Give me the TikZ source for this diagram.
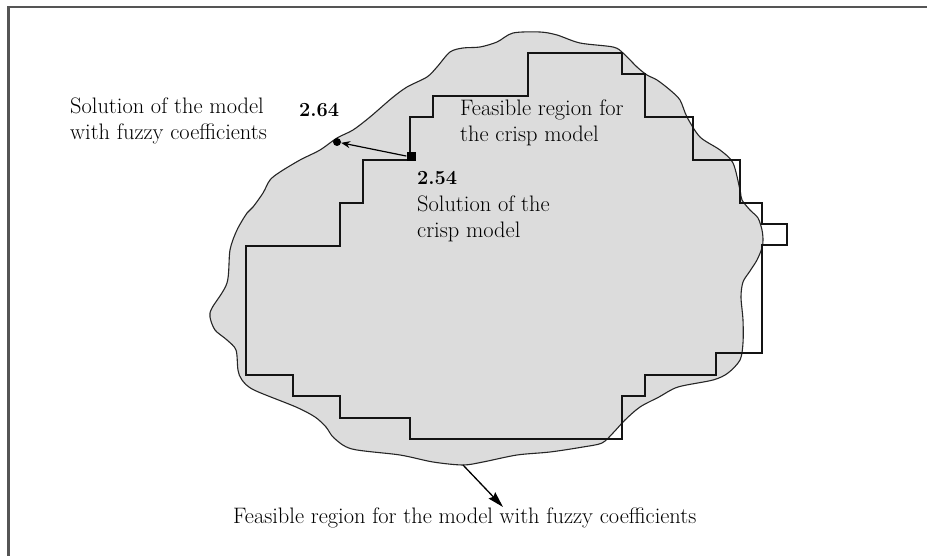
\documentclass[tikz,border=0pt]{standalone}
\usetikzlibrary{arrows.meta}
\definecolor{blobfill}{RGB}{220,220,220}
\definecolor{framegray}{RGB}{85,85,85}
\begin{document}
\begin{tikzpicture}[x=1pt,y=-1pt,
  lbl/.style={inner sep=0pt, anchor=base west, align=left, font=\fontsize{22.4}{26}\selectfont},
  num/.style={inner sep=0pt, anchor=base west, font=\fontsize{20}{24}\selectfont\bfseries},
  stair/.style={line width=2.8pt, draw=black!92, line join=miter},
  blob/.style={fill=blobfill, draw=black!85, line width=1.1pt},
  frameline/.style={draw=framegray, line width=2.2pt},
  pointer/.style={line width=1.2pt, -{Stealth[length=9pt,width=7pt]}},
  bigpointer/.style={line width=1.3pt, -{Stealth[length=16pt,width=9pt,inset=2pt]}}
]
\useasboundingbox (0,0) rectangle (927,556);
\clip (0,0) rectangle (927,556);
\fill[white] (0,0) rectangle (927,556);
% frame
\draw[frameline] (8.5,570) -- (8.5,7) -- (940,7);
% feasible region (fuzzy)
\draw[blob] plot[smooth cycle, tension=0.5] coordinates {
 (513,33) (540,32) (557,35) (580,43) (613,47) (623,53) (637,67) (647,75)
 (657,80) (670,90) (680,100) (687,117) (700,137) (720,150) (733,163)
 (740,190) (742,200) (750,210) (758,218) (762,230) (763,240) (762,248)
 (757,260) (750,271) (743,282) (741,297) (743,320) (743,343) (740,360)
 (728,373) (713,380) (678,387) (659,397) (640,407) (625,420) (613,433)
 (602,443) (583,447) (550,452) (517,455) (483,462) (463,465) (433,462)
 (400,455) (352,449) (334,438) (326,427) (315,417) (296,407) (254,390)
 (242,380) (238,370) (236,350) (227,340) (215,330) (210,317) (212,308)
 (227,283) (230,250) (237,230) (247,213) (253,207) (263,193) (270,180)
 (280,172) (300,160) (320,150) (337,138) (353,130) (370,117) (392,98)
 (407,87) (427,77) (437,67) (450,52) (463,48) (480,47) (497,42)};
% feasible region (crisp)
\draw[stair] (528,53) -- (622,53) -- (622,74) -- (645,74) -- (645,117)
 -- (693,117) -- (693,160) -- (740,160) -- (740,203) -- (762,203)
 -- (762,224) -- (787,224) -- (787,245) -- (762,245) -- (762,353)
 -- (716,353) -- (716,375) -- (645,375) -- (645,396) -- (622,396)
 -- (622,439) -- (410,439) -- (410,418) -- (340,418) -- (340,396)
 -- (293,396) -- (293,375) -- (246,375) -- (246,246) -- (340,246)
 -- (340,203) -- (363,203) -- (363,160) -- (410,160) -- (410,117)
 -- (433,117) -- (433,96) -- (528,96) -- cycle;
% solution points
\node[circle, fill=black, inner sep=0pt, minimum size=8pt] (fuzzysol) at (337,142) {};
\node[rectangle, fill=black, inner sep=0pt, minimum size=9pt] (crispsol) at (411,157) {};
\draw[pointer] (crispsol) -- (fuzzysol);
% labels (base anchor = baseline of the last line)
\node[lbl] (fuzzylbl) at (70,140) {Solution of the model\\with fuzzy coefficients};
\node[num] (v264) at (299,116.5) {2.64};
\node[num] (v254) at (417,185) {2.54};
\node[lbl] (crisplbl) at (417,238) {Solution of the\\crisp model};
\node[lbl] (crispreg) at (460,142) {Feasible region for\\the crisp model};
\node[lbl] (fuzzyreg) at (233,523) {Feasible region for the model with fuzzy coefficients};
\coordinate (blobbottom) at (463,465);
\coordinate (fuzzyregtip) at (503,507);
\draw[bigpointer] (blobbottom) -- (fuzzyregtip);
\end{tikzpicture}
\end{document}
